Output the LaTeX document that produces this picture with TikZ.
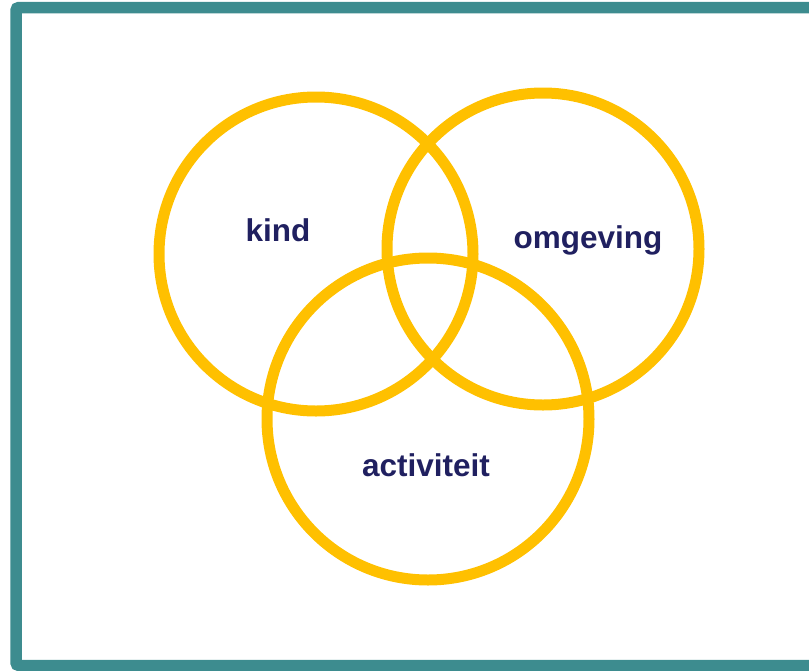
\documentclass[tikz,border=0pt]{standalone}
\usepackage{fontspec}
\setmainfont{Liberation Sans}
\usepackage{xcolor}
\usepackage{tikz}
\usetikzlibrary{positioning}
\definecolor{frameteal}{HTML}{3D8C8F}
\definecolor{ringgold}{HTML}{FFC000}
\definecolor{labelnavy}{HTML}{202060}
\tikzset{
  % Venn styles
  ring/.style={circle, draw=ringgold, line width=11pt, minimum size=#1, inner sep=0pt},
  ring/.default={316pt},
  vlabel/.style={text=labelnavy, font=\fontsize{31.5}{36}\selectfont\bfseries, inner sep=0pt, anchor=base},
  frame/.style={draw=frameteal, line width=11.5pt},
}
\begin{document}
\begin{tikzpicture}[x=1pt, y=-1pt]
    \useasboundingbox (0,0) rectangle (809,670);
    \clip (0,0) rectangle (809,670);

    % Frame
    \draw[frame, rounded corners=3pt] (16,7.5) rectangle (840,665.5);

    % Circles
    \node[ring=314pt] (kind) at (316,254) {};
    \node[ring=312pt] (omg) at (543,249) {};
    \node[ring=322pt] (act) at (428,419) {};

    % Labels
    \node[vlabel] (kindtxt) at (278,241) {kind};
    \node[vlabel] (omgtxt) at (588,248) {omgeving};
    \node[vlabel] (acttxt) at (426,476) {activiteit};
\end{tikzpicture}
\end{document}
